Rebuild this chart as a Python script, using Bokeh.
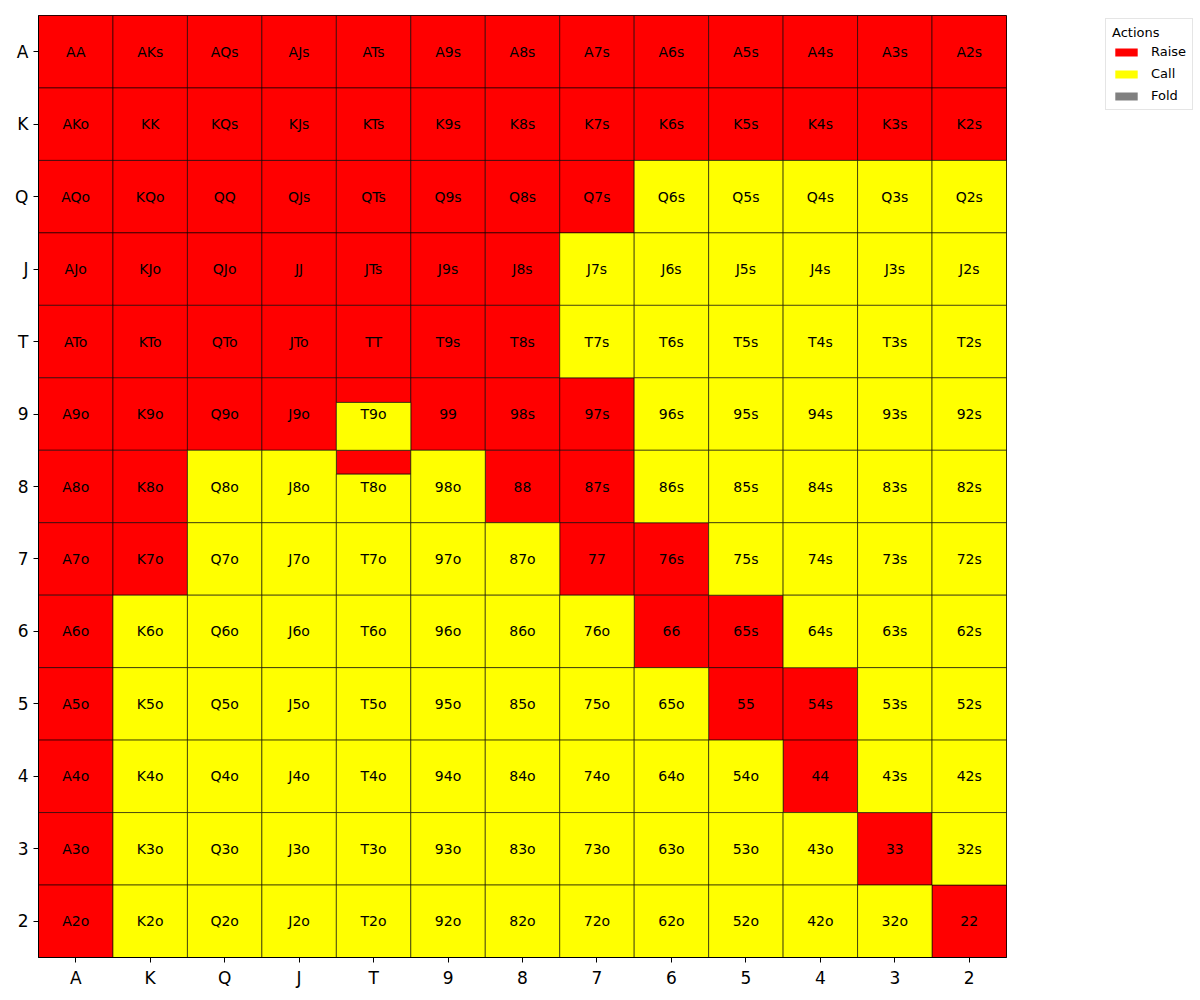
from bokeh.plotting import figure
from bokeh.models import ColumnDataSource, Legend, LegendItem, FixedTicker, Range1d
from bokeh.core.properties import value
from bokeh.embed import file_html
from bokeh.resources import INLINE

ranks = ["A", "K", "Q", "J", "T", "9", "8", "7", "6", "5", "4", "3", "2"]

# Raise frequency per cell (rows = first rank A..2, columns = A..2); rest is Call, Fold = 0
raise_freq = [
    [1, 1, 1, 1, 1, 1, 1, 1, 1, 1, 1, 1, 1],
    [1, 1, 1, 1, 1, 1, 1, 1, 1, 1, 1, 1, 1],
    [1, 1, 1, 1, 1, 1, 1, 1, 0, 0, 0, 0, 0],
    [1, 1, 1, 1, 1, 1, 1, 0, 0, 0, 0, 0, 0],
    [1, 1, 1, 1, 1, 1, 1, 0, 0, 0, 0, 0, 0],
    [1, 1, 1, 1, 0.34, 1, 1, 1, 0, 0, 0, 0, 0],
    [1, 1, 0, 0, 0.33, 0, 1, 1, 0, 0, 0, 0, 0],
    [1, 1, 0, 0, 0, 0, 0, 1, 1, 0, 0, 0, 0],
    [1, 0, 0, 0, 0, 0, 0, 0, 1, 1, 0, 0, 0],
    [1, 0, 0, 0, 0, 0, 0, 0, 0, 1, 1, 0, 0],
    [1, 0, 0, 0, 0, 0, 0, 0, 0, 0, 1, 0, 0],
    [1, 0, 0, 0, 0, 0, 0, 0, 0, 0, 0, 1, 0],
    [1, 0, 0, 0, 0, 0, 0, 0, 0, 0, 0, 0, 1],
]
fold_freq = [[0] * 13 for _ in range(13)]

actions = ["Raise", "Call", "Fold"]
action_colors = ["#ff0000", "#ffff00", "#808080"]

n = len(ranks)
labels, cx, cy = [], [], []
quads = {a: dict(left=[], right=[], top=[], bottom=[]) for a in actions}
for i in range(n):
    for j in range(n):
        if i == j:
            lab = ranks[i] + ranks[j]
        elif j > i:
            lab = ranks[i] + ranks[j] + "s"
        else:
            lab = ranks[j] + ranks[i] + "o"
        x = j
        y = n - 1 - i
        labels.append(lab)
        cx.append(x)
        cy.append(y)
        r = raise_freq[i][j]
        f = fold_freq[i][j]
        c = 1 - r - f
        top = y + 0.5
        for a, v in zip(actions, [r, c, f]):
            if v > 0:
                quads[a]["left"].append(x - 0.5)
                quads[a]["right"].append(x + 0.5)
                quads[a]["top"].append(top)
                quads[a]["bottom"].append(top - v)
                top -= v

p = figure(frame_width=968, frame_height=942, output_backend="svg", toolbar_location=None,
           x_range=Range1d(-0.5, n - 0.5), y_range=Range1d(-0.5, n - 0.5),
           min_border_left=38, min_border_right=194, min_border_top=15, min_border_bottom=43,
           background_fill_color="white", border_fill_color="white")

for a, col in zip(actions, action_colors):
    p.quad(source=ColumnDataSource(quads[a]), left="left", right="right", top="top", bottom="bottom",
           fill_color=col, line_color="black", line_width=0.6)

p.text(x=cx, y=cy, text=labels, text_align="center", text_baseline="middle",
       text_font=value("DejaVu Sans"), text_font_size="14px", text_color="black")

# legend swatches (non-drawing placeholder renderers, used only for the legend)
nan = float("nan")
items = []
for a, col in zip(actions, action_colors):
    rr = p.quad(left=[nan], right=[nan], top=[nan], bottom=[nan], fill_color=col, line_color=None)
    items.append(LegendItem(label=a, renderers=[rr]))

legend = Legend(items=items, location=(99, 847), title="Actions",
                title_text_font="DejaVu Sans", title_text_font_size="13px",
                title_text_font_style="normal", title_standoff=4, title_text_color="black",
                title_text_align="center",
                label_text_font="DejaVu Sans", label_text_font_size="13px", label_text_color="black",
                label_standoff=11,
                glyph_width=28, glyph_height=10, label_height=14, spacing=7,
                padding=6, margin=0, border_line_color="#cccccc", border_line_width=1,
                background_fill_color="white", background_fill_alpha=1)
p.add_layout(legend, "right")

p.xgrid.visible = False
p.ygrid.visible = False
p.outline_line_color = "black"
p.outline_line_width = 1

p.xaxis.ticker = FixedTicker(ticks=list(range(n)))
p.xaxis.major_label_overrides = {i: ranks[i] for i in range(n)}
p.yaxis.ticker = FixedTicker(ticks=list(range(n)))
p.yaxis.major_label_overrides = {n - 1 - i: ranks[i] for i in range(n)}
for ax in (p.xaxis[0], p.yaxis[0]):
    ax.major_label_text_font = "DejaVu Sans"
    ax.major_label_text_font_size = "17px"
    ax.major_label_text_color = "black"
    ax.major_tick_out = 5
    ax.major_tick_in = 0
    ax.minor_tick_line_color = None
    ax.axis_line_color = "black"
    ax.major_tick_line_color = "black"
    ax.major_label_standoff = 5

open("out.html", "w").write(file_html(p, INLINE))
